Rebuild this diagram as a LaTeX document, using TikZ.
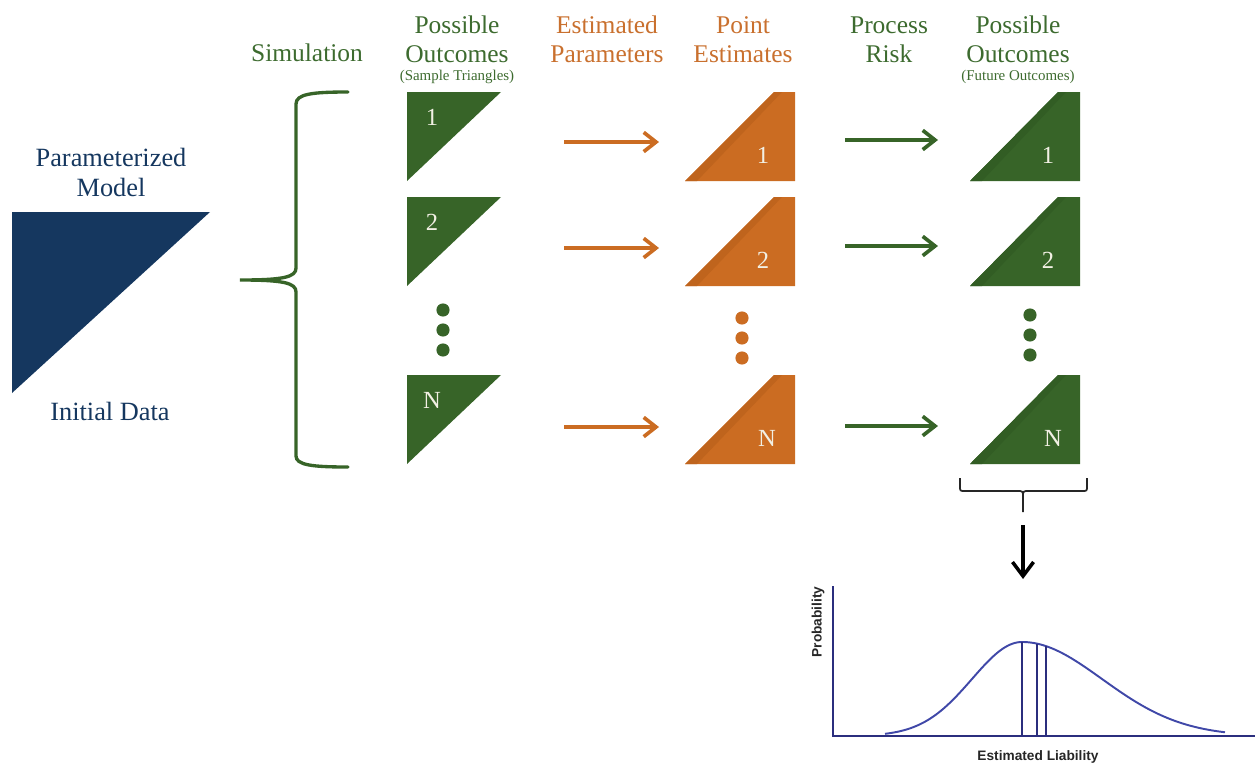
\documentclass[tikz,border=0pt]{standalone}
\usepackage{fontspec}
\setmainfont{Liberation Serif}
\setsansfont{Liberation Sans}
\usetikzlibrary{arrows.meta}
\definecolor{navy}{HTML}{15375F}
\definecolor{gtext}{HTML}{3D6B2F}
\definecolor{gfill}{HTML}{376428}
\definecolor{gband}{HTML}{325D24}
\definecolor{otext}{HTML}{C9702E}
\definecolor{ofill}{HTML}{CB6C22}
\definecolor{oband}{HTML}{BF641D}
\definecolor{cblue}{HTML}{4048A8}
\definecolor{caxis}{HTML}{2B2E7E}
\definecolor{numc}{HTML}{F2F0E4}
\tikzset{
  hd/.style={anchor=base, inner sep=0pt, font=\fontsize{14.5}{16}\selectfont},
  sub/.style={anchor=base, inner sep=0pt, font=\fontsize{8.5}{10}\selectfont},
  lbl/.style={anchor=base, inner sep=0pt, font=\fontsize{15}{16}\selectfont, text=navy},
  num/.style={anchor=base, inner sep=0pt, font=\fontsize{14}{16}\selectfont, text=numc},
  oarrow/.style={draw=ofill, line width=2.1pt, -{Straight Barb[length=7pt,width=11pt,line width=2.1pt]}},
  garrow/.style={draw=gfill, line width=2.1pt, -{Straight Barb[length=7pt,width=11pt,line width=2.1pt]}},
  dotg/.style={circle, fill=gfill, inner sep=0pt, minimum size=7.5pt},
  doto/.style={circle, fill=ofill, inner sep=0pt, minimum size=7.5pt},
  chartlbl/.style={inner sep=0pt, font=\sffamily\bfseries\fontsize{7.8}{9}\selectfont, text=black!85},
}
\begin{document}
\begin{tikzpicture}[x=0.02cm, y=-0.02cm]
\useasboundingbox (0,0) rectangle (1255,765);

% initial model triangle
\fill[navy] (12,212) -- (210,212) -- (12,393) -- cycle;
\node[lbl] (pm1) at (111,166) {Parameterized};
\node[lbl] (pm2) at (111,196) {Model};
\node[lbl] (idat) at (110,420) {Initial Data};

% headings
\node[hd,text=gtext] (sim) at (307,61) {Simulation};
\node[hd,text=gtext] (po1) at (457,33) {Possible};
\node[hd,text=gtext] (po2) at (457,62) {Outcomes};
\node[sub,text=gtext] (po3) at (457,80) {(Sample Triangles)};
\node[hd,text=otext] (ep1) at (607,33) {Estimated};
\node[hd,text=otext] (ep2) at (607,62) {Parameters};
\node[hd,text=otext] (pe1) at (743,33) {Point};
\node[hd,text=otext] (pe2) at (743,62) {Estimates};
\node[hd,text=gtext] (pr1) at (889,33) {Process};
\node[hd,text=gtext] (pr2) at (889,62) {Risk};
\node[hd,text=gtext] (fo1) at (1018,33) {Possible};
\node[hd,text=gtext] (fo2) at (1018,62) {Outcomes};
\node[sub,text=gtext] (fo3) at (1018,80) {(Future Outcomes)};

% brace
\draw[gfill, line width=1.9pt, line cap=round]
  (348,92) .. controls (312,92) and (296,94) .. (296,104) -- (296,268)
  .. controls (296,277) and (284,280) .. (240,280)
  .. controls (284,280) and (296,283) .. (296,292) -- (296,456)
  .. controls (296,465) and (312,467) .. (348,467);

% rows
\foreach \t/\lab/\n/\xo/\xg/\ya/\yb in {92/1/a/763/1048/142/140, 197/2/b/763/1048/248/246, 375/N/c/767/1053/427/426}{
  % sample triangle
  \fill[gfill] (407,\t) -- (501,\t) -- (407,\t+89) -- cycle;
  \node[num] (s\n) at (432,\t+33) {\lab};
  % point estimate
  \fill[ofill] (685,\t+89) -- (774,\t) -- (795,\t) -- (795,\t+89) -- cycle;
  \fill[oband] (685,\t+89) -- (774,\t) -- (782,\t) -- (697,\t+89) -- cycle;
  \node[num] (p\n) at (\xo,\t+71) {\lab};
  % future outcome
  \fill[gfill] (970,\t+89) -- (1058,\t) -- (1080,\t) -- (1080,\t+89) -- cycle;
  \fill[gband] (970,\t+89) -- (1058,\t) -- (1066,\t) -- (982,\t+89) -- cycle;
  \node[num] (f\n) at (\xg,\t+71) {\lab};
  % arrows
  \coordinate (oas\n) at (564,\ya);
  \coordinate (oae\n) at (659,\ya);
  \coordinate (gas\n) at (845,\yb);
  \coordinate (gae\n) at (938,\yb);
  \draw[oarrow] (oas\n) -- (oae\n);
  \draw[garrow] (gas\n) -- (gae\n);
}

% dots
\foreach \y [count=\i] in {310,330,350}{
  \node[dotg] (dl\i) at (443,\y) {};
}
\foreach \y [count=\i] in {318,338,358}{
  \node[doto] (do\i) at (742,\y) {};
}
\foreach \y [count=\i] in {315,335,355}{
  \node[dotg] (dr\i) at (1030,\y) {};
}

% bracket under future outcomes
\draw[black!85, line width=1pt]
  (960,478) -- (960,486) .. controls (960,491) .. (965,491) -- (1017,491)
  .. controls (1023,491) .. (1023,497) -- (1023,512)
  (1023,497) .. controls (1023,491) .. (1029,491) -- (1082,491)
  .. controls (1087,491) .. (1087,486) -- (1087,478);
\coordinate (bas) at (1023,525);
\coordinate (bae) at (1023,579);
\draw[black, line width=2pt, -{Straight Barb[length=8pt,width=12pt,line width=2pt]}] (bas) -- (bae);

% chart
\coordinate (org) at (833,736);
\coordinate (ytop) at (833,586);
\coordinate (xend) at (1255,736);
\draw[caxis, line width=1.1pt] (ytop) -- (org) -- (xend);
\draw[cblue, line width=1.1pt, smooth, samples=60, domain=885:1022]
  plot (\x, {736 - 94*exp(-((\x-1022)/50)^2/2)});
\draw[cblue, line width=1.1pt, smooth, samples=80, domain=1022:1225]
  plot (\x, {736 - 94*exp(-((\x-1022)/80)^2/2)});
\foreach \xx in {1022,1037,1046}{
  \draw[caxis, line width=1.1pt] (\xx,736) -- (\xx, {736 - 94*exp(-((\xx-1022)/80)^2/2)});
}
\node[chartlbl, rotate=90] (prob) at (818,622) {Probability};
\node[chartlbl] (eliab) at (1038,757) {Estimated Liability};
\end{tikzpicture}
\end{document}
